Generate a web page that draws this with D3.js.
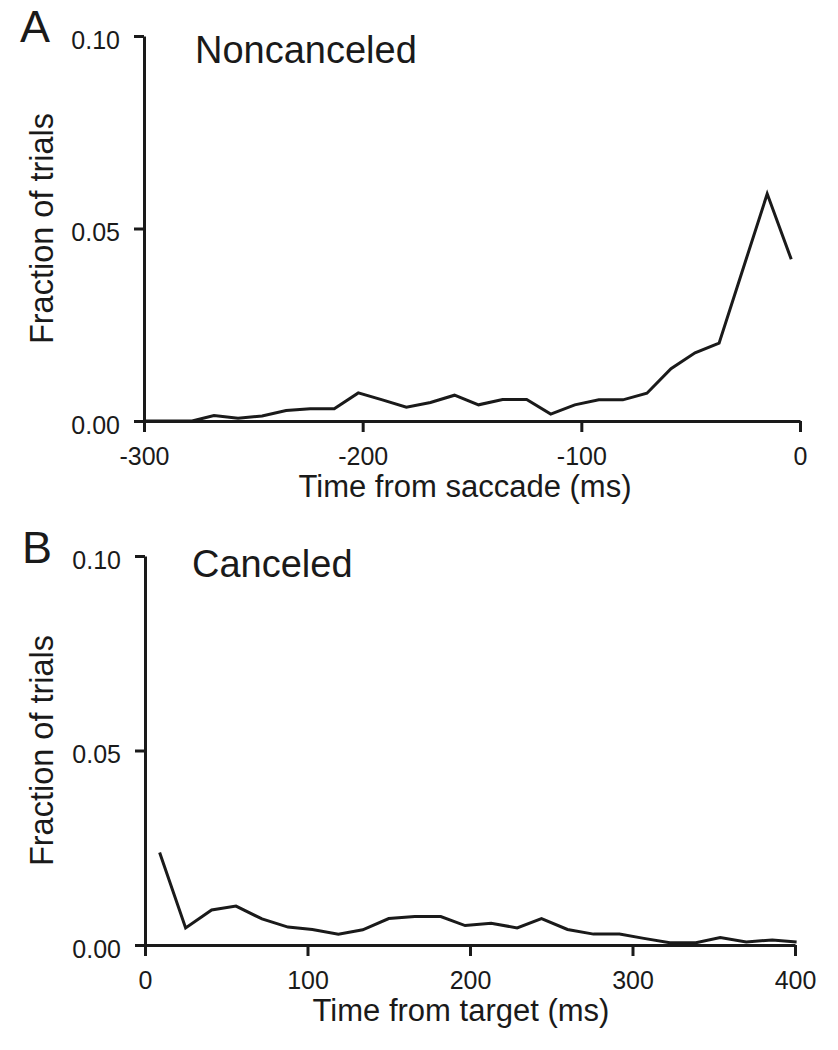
<!DOCTYPE html>
<html>
<head>
<meta charset="utf-8">
<script src="https://cdn.jsdelivr.net/npm/d3@7"></script>
<style>
  html, body { margin: 0; padding: 0; background: #fff; }
  svg text { font-family: "Liberation Sans", Arial, Helvetica, sans-serif; fill: #1a1a1a; }
</style>
</head>
<body>
<svg id="chart" width="838" height="1050"></svg>
<script>
// ---- Panel A: Noncanceled (time from saccade, ms) ----
const timeA = [-300, -289, -278, -268, -257, -246, -235, -224, -213, -202, -191, -180, -169, -158,
               -147, -136, -125, -114, -103, -92, -81, -70, -59, -48, -37, -26, -15, -4];
const fracA = [0.0000, 0.0000, 0.0000, 0.0014, 0.0007, 0.0013, 0.0027, 0.0032, 0.0032, 0.0073,
               0.0055, 0.0036, 0.0048, 0.0067, 0.0042, 0.0056, 0.0056, 0.0018, 0.0042, 0.0055,
               0.0055, 0.0072, 0.0136, 0.0177, 0.0202, 0.0396, 0.0590, 0.0420];

// ---- Panel B: Canceled (time from target, ms) ----
const timeB = [9, 25, 41, 56, 72, 88, 103, 119, 134, 150, 166, 182, 197, 213, 229, 244, 260,
               276, 292, 307, 323, 339, 354, 370, 386, 401];
const fracB = [0.0238, 0.0044, 0.0090, 0.0100, 0.0067, 0.0046, 0.0040, 0.0028, 0.0039, 0.0068,
               0.0073, 0.0073, 0.0050, 0.0056, 0.0044, 0.0068, 0.0040, 0.0028, 0.0028, 0.0017,
               0.0006, 0.0006, 0.0019, 0.0008, 0.0013, 0.0008];

// ---- Tick values & labels ----
const yTicks = [0, 0.05, 0.10];
const xTicksA = [-300, -200, -100, 0];
const xTicksB = [0, 100, 200, 300, 400];
const panelLetters = ["A", "B"];
const panelTitles = ["Noncanceled", "Canceled"];
const xTitles = ["Time from saccade (ms)", "Time from target (ms)"];
const yTitle = "Fraction of trials";

const svg = d3.select("#chart");
const ink = "#1a1a1a";

function drawPanel(cfg) {
  const x = d3.scaleLinear().domain(cfg.xDomain).range(cfg.xRange);
  const y = d3.scaleLinear().domain([0, 0.10]).range(cfg.yRange);
  const g = svg.append("g");

  // y axis
  const ya = g.append("g")
    .attr("transform", `translate(${cfg.xRange[0]},0)`)
    .call(d3.axisLeft(y).tickValues(yTicks).tickFormat(d3.format(".2f"))
      .tickSize(10).tickSizeOuter(0).tickPadding(14));
  // x axis
  const xa = g.append("g")
    .attr("transform", `translate(0,${cfg.yRange[0]})`)
    .call(d3.axisBottom(x).tickValues(cfg.xTicks).tickFormat(d3.format("d"))
      .tickSize(11).tickSizeOuter(0).tickPadding(15));

  [ya, xa].forEach(a => {
    a.select(".domain").attr("stroke", ink).attr("stroke-width", 3);
    a.selectAll(".tick line").attr("stroke", ink).attr("stroke-width", 3);
    a.selectAll(".tick text").attr("font-size", 25).attr("fill", ink)
      .style("font-family", '"Liberation Sans", Arial, sans-serif');
  });
  ya.selectAll(".tick text").attr("dy", "0.48em");
  xa.selectAll(".tick text").text(d => d < 0 ? "-" + Math.abs(d) : d);

  // data line
  const line = d3.line().x(d => x(d[0])).y(d => y(d[1]));
  g.append("path")
    .datum(cfg.times.map((t, i) => [t, cfg.fracs[i]]))
    .attr("d", line)
    .attr("fill", "none")
    .attr("stroke", ink)
    .attr("stroke-width", 3)
    .attr("stroke-linejoin", "miter");

  // panel letter
  g.append("text").attr("x", cfg.letterX).attr("y", cfg.letterY)
    .attr("font-size", 45).text(cfg.letter);
  // panel title
  g.append("text").attr("x", cfg.titleX).attr("y", cfg.titleY)
    .attr("font-size", 38).text(cfg.title);
  // x title
  g.append("text").attr("x", cfg.xTitleX).attr("y", cfg.xTitleY)
    .attr("text-anchor", "middle").attr("font-size", 31).text(cfg.xTitle);
  // y title
  const yc = (cfg.yRange[0] + cfg.yRange[1]) / 2;
  g.append("text")
    .attr("transform", `translate(53,${yc}) rotate(-90)`)
    .attr("text-anchor", "middle").attr("font-size", 32.5).text(yTitle);
}

drawPanel({
  xDomain: [-300, 0], xRange: [144, 800], yRange: [421, 36],
  xTicks: xTicksA, times: timeA, fracs: fracA,
  letter: panelLetters[0], letterX: 20, letterY: 42,
  title: panelTitles[0], titleX: 195, titleY: 63,
  xTitle: xTitles[0], xTitleX: 465, xTitleY: 497
});
drawPanel({
  xDomain: [0, 400], xRange: [145, 795], yRange: [945, 556],
  xTicks: xTicksB, times: timeB, fracs: fracB,
  letter: panelLetters[1], letterX: 22, letterY: 563,
  title: panelTitles[1], titleX: 192, titleY: 577,
  xTitle: xTitles[1], xTitleX: 461, xTitleY: 1021
});
</script>
</body>
</html>
